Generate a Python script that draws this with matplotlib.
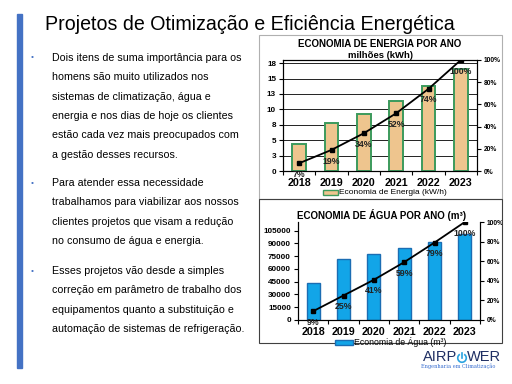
import numpy as np
import matplotlib
matplotlib.use("Agg")
import matplotlib.pyplot as plt
from matplotlib.patches import Rectangle, Arc
from matplotlib.lines import Line2D
from matplotlib.ticker import FixedLocator, FixedFormatter, PercentFormatter

plt.rcParams['font.family'] = ['Liberation Sans', 'DejaVu Sans']

# data
years = ['2018', '2019', '2020', '2021', '2022', '2023']
energia = [4.35, 7.8, 9.3, 11.3, 13.85, 16.6]          # milhoes kWh
energia_pct = [7, 19, 34, 52, 74, 100]
agua = [43500, 72000, 77500, 84000, 92000, 100500]     # m3
agua_pct = [9, 25, 41, 59, 79, 100]

energia_ticks = [0, 2.5, 5, 7.5, 10, 12.5, 15, 17.5]
energia_tick_labels = ['0', '3', '5', '8', '10', '13', '15', '18']
agua_ticks = [0, 15000, 30000, 45000, 60000, 75000, 90000, 105000]

bullets = [
    ["Dois itens de suma importância para os",
     "homens são muito utilizados nos",
     "sistemas de climatização, água e",
     "energia e nos dias de hoje os clientes",
     "estão cada vez mais preocupados com",
     "a gestão desses recursos."],
    ["Para atender essa necessidade",
     "trabalhamos para viabilizar aos nossos",
     "clientes projetos que visam a redução",
     "no consumo de água e energia."],
    ["Esses projetos vão desde a simples",
     "correção em parâmetro de trabalho dos",
     "equipamentos quanto a substituição e",
     "automação de sistemas de refrigeração."],
]

W, H = 512, 384
fig = plt.figure(figsize=(W / 100, H / 100), dpi=100)


def fx(x):
    return x / W


def fy(y):
    return 1 - y / H


def box(x, y, w, h):
    return [x / W, 1 - (y + h) / H, w / W, h / H]


# left accent bar + title
fig.patches.append(Rectangle((fx(17), fy(368)), 5 / W, 354 / H, transform=fig.transFigure,
                             color='#4472C4', zorder=0))
fig.text(fx(45), fy(24), "Projetos de Otimização e Eficiência Energética",
         fontsize=14.1, va='center', ha='left', color='black')

# bullet text
starts = [58, 183, 271]
for y0, lines in zip(starts, bullets):
    fig.text(fx(31), fy(y0), "•", fontsize=6, color='#4472C4', va='center')
    for i, line in enumerate(lines):
        fig.text(fx(52), fy(y0 + i * 19.3), line, fontsize=7.7, va='center', color='black')

# chart frames
fig.patches.append(Rectangle((fx(259), fy(199)), 243 / W, 164 / H, transform=fig.transFigure,
                             fill=False, edgecolor='#b0b0b0', lw=0.8))
fig.patches.append(Rectangle((fx(259), fy(343)), 243 / W, 144 / H, transform=fig.transFigure,
                             fill=False, edgecolor='#404040', lw=0.8))


def style_axes(ax, ax2, n):
    ax.set_xlim(-0.5, n - 0.5)
    ax.set_xticks(range(n))
    ax.set_xticklabels(years, fontsize=7.7, fontweight='bold')
    ax.xaxis.set_minor_locator(FixedLocator(np.arange(-0.5, n, 1.0)))
    ax.tick_params(axis='x', which='major', length=0, pad=5)
    ax.tick_params(axis='x', which='minor', length=3, width=0.8, direction='out')
    ax.tick_params(axis='y', length=3, width=0.8, labelsize=5.9, pad=2)
    for lab in ax.get_yticklabels():
        lab.set_fontweight('bold')
    ax2.set_ylim(0, 1)
    ax2.yaxis.set_major_locator(FixedLocator([0, .2, .4, .6, .8, 1.0]))
    ax2.yaxis.set_major_formatter(PercentFormatter(1.0, decimals=0))
    ax2.tick_params(axis='y', length=3, width=0.8, labelsize=4.8, pad=2)
    for lab in ax2.get_yticklabels():
        lab.set_fontweight('bold')
    for a in (ax, ax2):
        for s in a.spines.values():
            s.set_linewidth(0.8)
            s.set_color('black')


# ---- energy chart
ax1 = fig.add_axes(box(283, 60, 194, 111))
x = np.arange(len(years))
ax1.bar(x, energia, width=0.42, color='#EEC58E', edgecolor='#3C9A5C', linewidth=1.4, zorder=2)
ax1.set_ylim(0, 18)
ax1.yaxis.set_major_locator(FixedLocator(energia_ticks))
ax1.yaxis.set_major_formatter(FixedFormatter(energia_tick_labels))
ax1.grid(axis='y', color='#222222', linewidth=0.7, zorder=0)
ax1.set_axisbelow(True)
ax1b = ax1.twinx()
p = np.array(energia_pct) / 100
ax1b.plot(x, p, color='black', lw=1.3, marker='s', ms=2.8, zorder=5)
for xi, pi, v in zip(x, p, energia_pct):
    ax1b.annotate(f"{v}%", (xi, pi), xytext=(0, -8), textcoords='offset points',
                  ha='center', va='center', fontsize=6.3, fontweight='bold', color='#222222')
style_axes(ax1, ax1b, len(years))

fig.text(fx(380), fy(44), "ECONOMIA DE ENERGIA POR ANO", fontsize=7, fontweight='bold',
         ha='center', va='center')
fig.text(fx(380), fy(56), "milhões (kWh)", fontsize=6.8, fontweight='bold',
         ha='center', va='center')
fig.patches.append(Rectangle((fx(323), fy(195)), 15 / W, 5 / H, transform=fig.transFigure,
                             facecolor='#EEC58E', edgecolor='#3C9A5C', lw=1.0))
fig.text(fx(339), fy(192), "Economia de Energia (kW/h)", fontsize=6, ha='left', va='center')

# ---- water chart
ax2 = fig.add_axes(box(298, 222, 182, 98))
ax2.bar(x, agua, width=0.43, color='#12A5E8', edgecolor='#1B6DB3', linewidth=1.0, zorder=2)
ax2.set_ylim(0, 115000)
ax2.yaxis.set_major_locator(FixedLocator(agua_ticks))
ax2.yaxis.set_major_formatter(FixedFormatter([str(t) for t in agua_ticks]))
ax2b = ax2.twinx()
q = np.array(agua_pct) / 100
ax2b.plot(x, q, color='black', lw=1.3, marker='s', ms=2.8, zorder=5)
for xi, qi, v in zip(x, q, agua_pct):
    ax2b.annotate(f"{v}%", (xi, qi), xytext=(0, -8), textcoords='offset points',
                  ha='center', va='center', fontsize=6.3, fontweight='bold', color='#222222')
style_axes(ax2, ax2b, len(years))
ax2.spines['top'].set_visible(False)
ax2b.spines['top'].set_visible(False)

fig.text(fx(382), fy(215), "ECONOMIA DE ÁGUA POR ANO (m³)", fontsize=7, fontweight='bold',
         ha='center', va='center')
fig.patches.append(Rectangle((fx(335), fy(345)), 18 / W, 5 / H, transform=fig.transFigure,
                             facecolor='#12A5E8', edgecolor='#1B6DB3', lw=1.0))
fig.text(fx(354), fy(342), "Economia de Água (m³)", fontsize=6.3, ha='left', va='center')

# logo
fig.text(fx(457), fy(357), "AIRP", fontsize=10.5, ha='right', va='center', color='#1E2E63')
fig.text(fx(467), fy(357), "WER", fontsize=10.5, ha='left', va='center', color='#1E2E63')
fig.patches.append(Arc((4.62, (H - 358) / 100), 0.085, 0.085, theta1=120, theta2=420,
                       transform=fig.dpi_scale_trans, color='#2AA3E0', lw=1.2))
fig.lines.append(Line2D([4.62, 4.62], [(H - 353) / 100, (H - 358) / 100],
                        transform=fig.dpi_scale_trans, color='#2AA3E0', lw=1.2))
fig.text(fx(458), fy(366), "Engenharia em Climatização", fontsize=3.6, ha='center',
         va='center', color='#3A6FD0', family='DejaVu Serif')

fig.savefig("out.png", dpi=100)
